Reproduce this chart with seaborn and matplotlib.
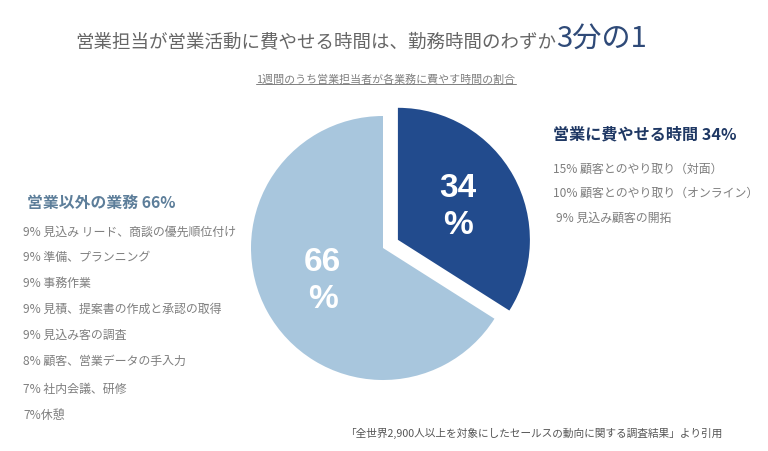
import matplotlib.pyplot as plt
import seaborn as sns

# --- data ---
pie_labels = ['営業に費やせる時間', '営業以外の業務']
pie_values = [34, 66]

sales_items = ['顧客とのやり取り（対面）', '顧客とのやり取り（オンライン）', '見込み顧客の開拓']
sales_pct = [15, 10, 9]

other_items = ['見込み リード、商談の優先順位付け', '準備、プランニング', '事務作業',
               '見積、提案書の作成と承認の取得', '見込み客の調査', '顧客、営業データの手入力',
               '社内会議、研修', '休憩']
other_pct = [9, 9, 9, 9, 9, 8, 7, 7]

title_main = '営業担当が営業活動に費やせる時間は、勤務時間のわずか'
title_emph = '3分の1'
subtitle = '1週間のうち営業担当者が各業務に費やす時間の割合'
source = '「全世界2,900人以上を対象にしたセールスの動向に関する調査結果」より引用'

# --- style ---
sns.set_theme(style='white')
plt.rcParams['font.family'] = ['Noto Sans CJK JP', 'DejaVu Sans']

colors = ['#224b8d', '#a8c6dd']
gray = '#7f7f7f'

W, H = 768, 451
fig = plt.figure(figsize=(W / 100, H / 100), dpi=100)
ax = fig.add_axes([0, 0, 1, 1])

# pie drawn in pixel-like data units (y measured from top flipped)
cx, cy, r = 383, H - 248, 132
wedges, _, autotexts = ax.pie(
    pie_values, colors=colors, startangle=90, counterclock=False,
    explode=[17, 0], center=(cx, cy), radius=r,
    autopct=lambda p: f'{p:.0f}\n%', pctdistance=0.52,
    wedgeprops=dict(linewidth=0),
    textprops=dict(color='white', fontsize=24, fontweight='bold',
                   family=['Liberation Sans', 'DejaVu Sans'], linespacing=1.25),
)
ax.set_xlim(0, W)
ax.set_ylim(0, H)
ax.set_aspect('equal')
ax.axis('off')

# --- title ---
t1 = ax.text(75, H - 47, title_main, fontsize=13.3, color='#666666', va='baseline', ha='left')
fig.canvas.draw()
bb = t1.get_window_extent()
ax.text(bb.x1, H - 47, title_emph, fontsize=21, color='#2f4a78', va='baseline', ha='left')

# subtitle with underline
st = ax.text(386, H - 80, subtitle, fontsize=7.9, color=gray, ha='center', va='center')
fig.canvas.draw()
sb = st.get_window_extent()
ax.plot([sb.x0, sb.x1], [sb.y0 + 1, sb.y0 + 1], color=gray, linewidth=0.7)

# --- right block ---
ax.text(553, H - 134, f'{pie_labels[0]} {pie_values[0]}%', fontsize=11.6, fontweight='bold',
        color='#1f3864', ha='left', va='center')
for i, (p, t) in enumerate(zip(sales_pct, sales_items)):
    ax.text(553 if p >= 10 else 556, H - (169 + 24.5 * i), f'{p}% {t}', fontsize=8.6,
            color=gray, ha='left', va='center')

# --- left block ---
ax.text(27, H - 203, f'{pie_labels[1]} {pie_values[1]}%', fontsize=11.4, fontweight='bold',
        color='#5d7e9a', ha='left', va='center')
for i, (p, t) in enumerate(zip(other_pct, other_items)):
    sep = '' if t == '休憩' else ' '
    ax.text(23, H - (232 + 25.8 * i + (3 if i >= 6 else 0)), f'{p}%{sep}{t}', fontsize=8.6,
            color=gray, ha='left', va='center')

# --- source ---
ax.text(345, H - 433, source, fontsize=7.7, color='#555555', ha='left', va='center')

fig.savefig('out.png', dpi=100)
